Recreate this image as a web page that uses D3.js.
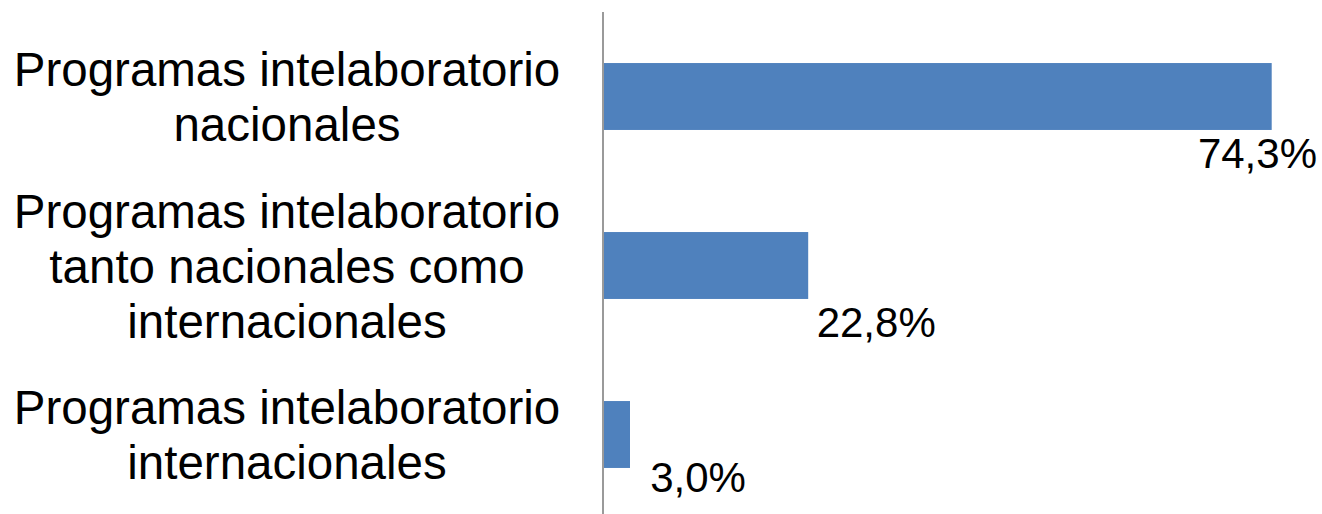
<!DOCTYPE html>
<html>
<head>
<meta charset="utf-8">
<script src="https://cdn.jsdelivr.net/npm/d3@7"></script>
<style>
  html, body { margin: 0; padding: 0; background: #fff; }
  svg { display: block; }
</style>
</head>
<body>
<svg id="chart" width="1322" height="514"></svg>
<script>
const categories = [
  ["Programas intelaboratorio", "nacionales"],
  ["Programas intelaboratorio", "tanto nacionales como", "internacionales"],
  ["Programas intelaboratorio", "internacionales"]
];
const values = [74.3, 22.8, 3.0];
const valueLabels = ["74,3%", "22,8%", "3,0%"];

const W = 1322, H = 514;
const svg = d3.select("#chart");
const font = "'Liberation Sans', Arial, Helvetica, sans-serif";

const x = d3.scaleLinear().domain([0, 80]).range([603, 1323]);
const y = d3.scaleBand().domain(d3.range(categories.length)).range([12, 519]).paddingInner(0.604).paddingOuter(0.302);

// bars
svg.selectAll("rect.bar").data(values).join("rect")
  .attr("class", "bar")
  .attr("x", x(0))
  .attr("y", (d, i) => y(i))
  .attr("width", d => x(d) - x(0))
  .attr("height", y.bandwidth())
  .attr("fill", "#4F81BD");

// axis line
svg.append("line")
  .attr("x1", x(0)).attr("x2", x(0))
  .attr("y1", 12).attr("y2", 519)
  .attr("stroke", "#9a9a9a").attr("stroke-width", 2);

// category labels
const catSize = 47.5, lineH = 55;
categories.forEach((lines, i) => {
  const cy = y(i) + y.bandwidth() / 2;
  const n = lines.length;
  const t = svg.append("text")
    .attr("text-anchor", "middle")
    .attr("font-family", font)
    .attr("font-size", catSize)
    .attr("fill", "#000");
  lines.forEach((ln, j) => {
    const capCenter = cy + (j - (n - 1) / 2) * lineH;
    t.append("tspan")
      .attr("x", 287)
      .attr("y", capCenter + catSize * 0.358)
      .text(ln);
  });
});

// value labels
const valSize = 42;
valueLabels.forEach((lab, i) => {
  const t = svg.append("text")
    .attr("font-family", font)
    .attr("font-size", valSize)
    .attr("fill", "#000")
    .text(lab);
  const w = t.node().getComputedTextLength();
  let cx = x(values[i]) + 68;
  if (cx + w / 2 > 1317) cx = 1317 - w / 2;
  const by = Math.min(y(i) + y.bandwidth() + 38, 492);
  t.attr("x", cx - w / 2).attr("y", by);
});
</script>
</body>
</html>
